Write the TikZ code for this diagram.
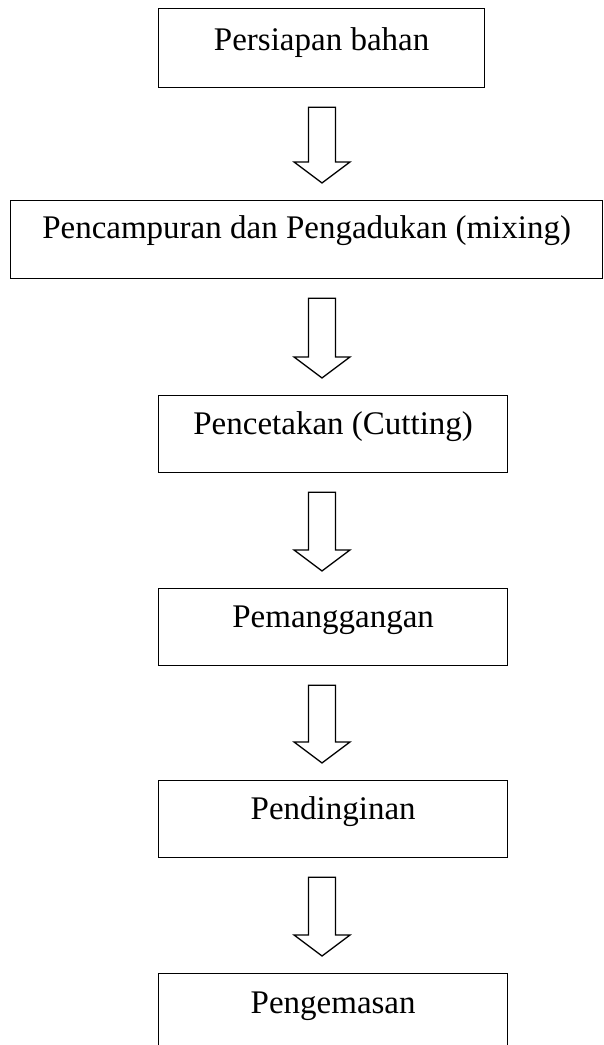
\documentclass[tikz,border=0pt]{standalone}
\usepackage{fontspec}
\setmainfont{Liberation Serif}
\usetikzlibrary{calc}
\tikzset{
  stepbox/.style={draw=black, line width=1.3pt, rectangle, anchor=north west, inner sep=0pt,
    align=center, font=\fontsize{33}{38}\selectfont, text height=40pt, text depth=38pt},
  barrow/.style={draw=black, line width=1.3pt, line join=miter, fill=white}
}
\newcommand\blockarr[2]{%
  \draw[barrow] let \p1=(ax |- #1.south), \p2=(ax |- #2.north) in
    (\x1-13.5pt,\y1-19pt) -- (\x1+13.5pt,\y1-19pt) -- (\x1+13.5pt,\y2+38pt)
    -- (\x1+28pt,\y2+38pt) -- (\x1,\y2+17pt) -- (\x1-28pt,\y2+38pt)
    -- (\x1-13.5pt,\y2+38pt) -- cycle;}
\begin{document}
\begin{tikzpicture}[x=1pt,y=1pt]
\useasboundingbox (0,0) rectangle (604,1045);
\clip (0,0) rectangle (604,1045);
\coordinate (ax) at (322,0);
\node[stepbox, minimum width=326pt, text height=42pt, text depth=37pt] (b1) at (158,1037) {Persiapan bahan};
\node[stepbox, minimum width=592pt, text height=38pt, text depth=40pt] (b2) at (10,845) {Pencampuran dan Pengadukan (mixing)};
\node[stepbox, minimum width=349pt, text height=39pt, text depth=38pt] (b3) at (158,650) {Pencetakan (Cutting)};
\node[stepbox, minimum width=349pt, text height=39pt, text depth=38pt] (b4) at (158,457) {Pemanggangan};
\node[stepbox, minimum width=349pt, text height=39pt, text depth=38pt] (b5) at (158,265) {Pendinginan};
\node[stepbox, minimum width=349pt, text height=40pt, text depth=70pt] (b6) at (158,72) {Pengemasan};
\blockarr{b1}{b2}
\blockarr{b2}{b3}
\blockarr{b3}{b4}
\blockarr{b4}{b5}
\blockarr{b5}{b6}
\end{tikzpicture}
\end{document}
